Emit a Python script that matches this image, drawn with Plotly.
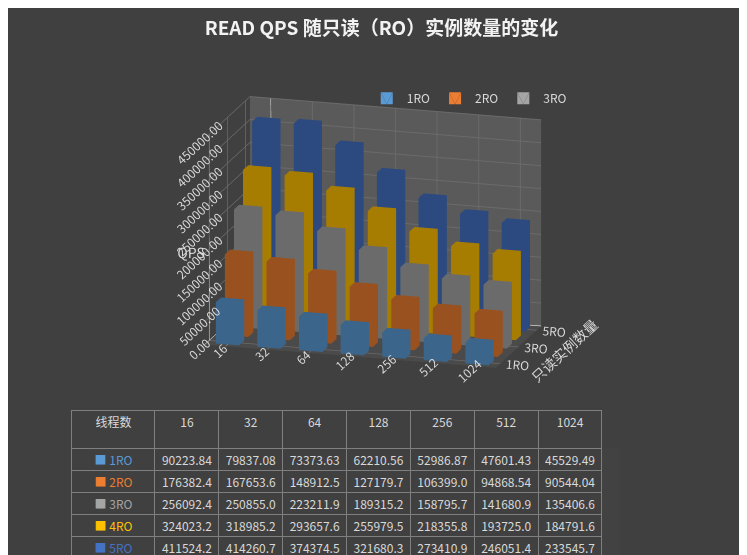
import plotly.graph_objects as go

threads = ["16", "32", "64", "128", "256", "512", "1024"]
series = ["1RO", "2RO", "3RO", "4RO", "5RO"]
ro1 = [90223.84, 79837.08, 73373.63, 62210.56, 52986.87, 47601.43, 45529.49]
ro2 = [176382.4, 167653.6, 148912.5, 127179.7, 106399.0, 94868.54, 90544.04]
ro3 = [256092.4, 250855.0, 223211.9, 189315.2, 158795.7, 141680.9, 135406.6]
ro4 = [324023.2, 318985.2, 293657.6, 255979.5, 218355.8, 193725.0, 184791.6]
ro5 = [411524.2, 414260.7, 374374.5, 321680.3, 273410.9, 246051.4, 233545.7]
values = [ro1, ro2, ro3, ro4, ro5]
colors = ["#5B9BD5", "#ED7D31", "#A5A5A5", "#FFC000", "#4472C4"]
z_ticks = [0, 50000, 100000, 150000, 200000, 250000, 300000, 350000, 400000, 450000]

bg = "#404040"
txt = "#D9D9D9"


def fmt(v):
    # Excel-style general number, 7 significant digits
    s = "%.7g" % v
    return s if "." in s else s + ".0"


fig = go.Figure()

# one mesh per series, each bar is a box
w = 0.28
for si, (name, vals, col) in enumerate(zip(series, values, colors)):
    xs, ys, zs, ii, jj, kk = [], [], [], [], [], []
    for ci, v in enumerate(vals):
        b = len(xs)
        for dz in (0, v):
            for dx, dy in ((-w, -w), (w, -w), (w, w), (-w, w)):
                xs.append(ci + dx)
                ys.append(si + dy)
                zs.append(dz)
        faces = [(0, 1, 2), (0, 2, 3), (4, 5, 6), (4, 6, 7),
                 (0, 1, 5), (0, 5, 4), (1, 2, 6), (1, 6, 5),
                 (2, 3, 7), (2, 7, 6), (3, 0, 4), (3, 4, 7)]
        for a, c, d in faces:
            ii.append(b + a); jj.append(b + c); kk.append(b + d)
    fig.add_trace(go.Mesh3d(
        x=xs, y=ys, z=zs, i=ii, j=jj, k=kk, color=col, flatshading=True,
        name=name, showlegend=si < 3, opacity=1,
        lighting=dict(ambient=0.65, diffuse=0.8, specular=0.1),
        lightposition=dict(x=2000, y=-3000, z=2000),
        hoverinfo="skip",
    ))

# data table
fig.add_trace(go.Table(
    domain=dict(x=[0.08, 0.8], y=[0.0, 0.29]),
    columnwidth=[1.3] + [1] * 7,
    header=dict(values=["线程数"] + threads, fill_color=bg,
                line_color="#7F7F7F", font=dict(color=txt, size=12), height=38),
    cells=dict(values=[["■ " + s for s in series]] + [[fmt(values[s][c]) for s in range(5)] for c in range(7)],
               fill_color=bg, line_color="#7F7F7F", height=22,
               font=dict(color=[colors] + [txt] * 7, size=12)),
))

fig.update_layout(
    width=747, height=555,
    paper_bgcolor=bg,
    font=dict(family="Noto Sans CJK SC", color=txt, size=12),
    title=dict(text="<b>READ QPS 随只读（RO）实例数量的变化</b>", x=0.5, y=0.975,
               font=dict(size=19, color="#F2F2F2")),
    margin=dict(l=5, r=5, t=40, b=5),
    legend=dict(orientation="h", x=0.48, y=0.93, font=dict(size=12, color=txt),
                bgcolor="rgba(0,0,0,0)"),
    scene=dict(
        domain=dict(x=[0, 1], y=[0.27, 0.97]),
        aspectmode="manual", aspectratio=dict(x=1.7, y=0.9, z=1.2),
        camera=dict(eye=dict(x=0.55, y=-1.7, z=0.45), center=dict(x=0.05, y=0, z=-0.05),
                    projection=dict(type="orthographic")),
        xaxis=dict(title="", tickvals=list(range(7)), ticktext=threads,
                   showbackground=False, gridcolor="#6A6A6A", color=txt, range=[-0.5, 6.5]),
        yaxis=dict(title="只读实例数量", tickvals=[0, 2, 4], ticktext=["1RO", "3RO", "5RO"],
                   showbackground=True, backgroundcolor="#5A5A5A", gridcolor="#6A6A6A",
                   color=txt, range=[-0.5, 4.5]),
        zaxis=dict(title="QPS", tickvals=z_ticks, ticktext=["%.2f" % t for t in z_ticks],
                   range=[0, 450000], showbackground=True, backgroundcolor="#4A4A4A",
                   gridcolor="#6A6A6A", color=txt),
    ),
)

fig.write_html("out.html")
